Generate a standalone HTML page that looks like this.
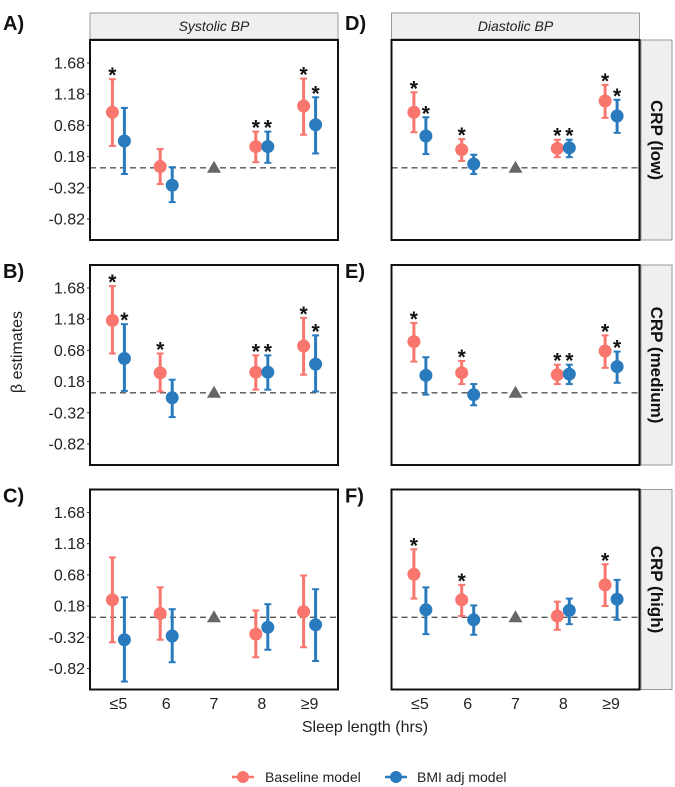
<!DOCTYPE html>
<html><head><meta charset="utf-8">
<style>
body{margin:0;background:#fff;}
svg{display:block;font-family:"Liberation Sans",sans-serif;}
</style></head>
<body>
<svg id="chart" width="675" height="787" viewBox="0 0 675 787"></svg>
<script>
const categories=["≤5","6","7","8","≥9"];
const yTicks=[1.68,1.18,0.68,0.18,-0.32,-0.82];
const panelLabels=["A)","B)","C)","D)","E)","F)"];
const colTitles=["Systolic BP","Diastolic BP"];
const rowTitles=["CRP (low)","CRP (medium)","CRP (high)"];
// per panel: [est,lo,hi] for categories ≤5,6,8,≥9 (7 is reference)
const baseA=[[0.89,0.35,1.42],[0.02,-0.26,0.30],[0.34,0.09,0.58],[0.99,0.53,1.43]];
const bmiA=[[0.43,-0.10,0.96],[-0.28,-0.55,0.01],[0.34,0.08,0.58],[0.69,0.23,1.13]];
const baseB=[[1.16,0.63,1.71],[0.32,0.02,0.63],[0.33,0.05,0.60],[0.75,0.29,1.20]];
const bmiB=[[0.55,0.03,1.10],[-0.08,-0.39,0.21],[0.33,0.05,0.60],[0.46,0.02,0.92]];
const baseC=[[0.28,-0.40,0.96],[0.06,-0.36,0.48],[-0.27,-0.64,0.11],[0.09,-0.48,0.67]];
const bmiC=[[-0.36,-1.03,0.32],[-0.30,-0.72,0.13],[-0.16,-0.52,0.21],[-0.12,-0.70,0.45]];
const baseD=[[0.89,0.57,1.21],[0.29,0.11,0.46],[0.31,0.17,0.45],[1.07,0.80,1.33]];
const bmiD=[[0.51,0.22,0.81],[0.06,-0.10,0.21],[0.32,0.17,0.45],[0.83,0.56,1.09]];
const baseE=[[0.82,0.50,1.12],[0.32,0.14,0.51],[0.29,0.14,0.45],[0.67,0.40,0.92]];
const bmiE=[[0.28,-0.03,0.57],[-0.03,-0.20,0.14],[0.30,0.14,0.45],[0.42,0.16,0.66]];
const baseF=[[0.69,0.30,1.09],[0.28,0.02,0.52],[0.02,-0.20,0.25],[0.52,0.18,0.85]];
const bmiF=[[0.12,-0.27,0.48],[-0.04,-0.28,0.19],[0.11,-0.11,0.30],[0.29,-0.04,0.60]];
const sigBase=[[1,0,1,1],[1,1,1,1],[0,0,0,0],[1,1,1,1],[1,1,1,1],[1,1,0,1]];
const sigBmi=[[0,0,1,1],[1,0,1,1],[0,0,0,0],[1,0,1,1],[0,0,1,1],[0,0,0,0]];
const baseAll=[baseA,baseB,baseC,baseD,baseE,baseF];
const bmiAll=[bmiA,bmiB,bmiC,bmiD,bmiE,bmiF];

const NS="http://www.w3.org/2000/svg";
const svg=document.getElementById('chart');
function mk(t,a,p){const e=document.createElementNS(NS,t);for(const k in a)e.setAttribute(k,a[k]);(p||svg).appendChild(e);return e;}
const RED="#F8766D",BLUE="#2A7BBE";
const colX=[90,391.5],PW=248,PH=200,rowY=[40,265,489.5];
const catIdx=[0,1,3,4];
function xS(col,i){return colX[col]+PW/2+(i-2)*47.8;}
function yS(row,v){return rowY[row]+127.8-v*62.4;}

for(let c=0;c<2;c++){
  const s=mk('rect',{x:colX[c],y:13,width:PW,height:26,fill:'#efefef',stroke:'#999','stroke-width':1});
  
  
  const t=mk('text',{x:colX[c]+PW/2,y:31,'text-anchor':'middle','font-size':14,'font-style':'italic',fill:'#222'});
  t.textContent=colTitles[c];
  
  
}
for(let r=0;r<3;r++){
  const s=mk('rect',{x:641,y:rowY[r],width:31,height:PH,fill:'#efefef',stroke:'#999','stroke-width':1});
  
  
  const cy=rowY[r]+PH/2;
  const t=mk('text',{x:656.5,y:cy,'text-anchor':'middle','dominant-baseline':'central','font-size':17,'font-weight':'bold',fill:'#111',transform:`rotate(90 656.5 ${cy})`});
  t.textContent=rowTitles[r];
  
  
}
for(let c=0;c<2;c++)for(let r=0;r<3;r++){
  const p=c*3+r;
  const g=mk('g',{});
  
  
  const lab=mk('text',{x:c?345:3,y:r===0?30:rowY[r]+13,'font-size':20,'font-weight':'bold',fill:'#111'},g);
  lab.textContent=panelLabels[p];
  
  
  mk('line',{x1:colX[c],x2:colX[c]+PW,y1:yS(r,0),y2:yS(r,0),stroke:'#555','stroke-width':1.3,'stroke-dasharray':'6,4'},g);
  if(c===0){
    yTicks.forEach(v=>{
      const t=mk('text',{x:colX[0]-5,y:yS(r,v)+5.5,'text-anchor':'end','font-size':16,fill:'#222'},g);
      t.textContent=v.toFixed(2);
      
      
      mk('line',{x1:colX[0]-3,x2:colX[0],y1:yS(r,v),y2:yS(r,v),stroke:'#333'},g);
    });
  }
  if(r===2){
    categories.forEach((cat,i)=>{
      const t=mk('text',{x:xS(c,i),y:709,'text-anchor':'middle','font-size':16,fill:'#222'},g);
      t.textContent=cat;
      
      
    });
  }
  const tx=xS(c,2),ty=yS(r,0);
  const tri=mk('polygon',{points:`${tx-7},${ty+5} ${tx+7},${ty+5} ${tx},${ty-7}`,fill:'#666'},g);
  
  
  [[baseAll[p],RED,-6,sigBase[p]],[bmiAll[p],BLUE,6,sigBmi[p]]].forEach(([data,col,dx,sig])=>{
    data.forEach((d,k)=>{
      const x=xS(c,catIdx[k])+dx;
      const [e,lo,hi]=d;
      mk('line',{x1:x,x2:x,y1:yS(r,lo),y2:yS(r,hi),stroke:col,'stroke-width':3},g);
      mk('line',{x1:x-3.5,x2:x+3.5,y1:yS(r,lo),y2:yS(r,lo),stroke:col,'stroke-width':2},g);
      mk('line',{x1:x-3.5,x2:x+3.5,y1:yS(r,hi),y2:yS(r,hi),stroke:col,'stroke-width':2},g);
      const pt=mk('circle',{cx:x,cy:yS(r,e),r:6.5,fill:col},g);
      
      
      if(sig[k]){
        const st=mk('text',{x:x,y:yS(r,hi)+3,'text-anchor':'middle','font-size':21,'font-weight':'bold',fill:'#111'},g);
        st.textContent='*';
        
        
      }
    });
  });
  mk('rect',{x:colX[c],y:rowY[r],width:PW,height:PH,fill:'none',stroke:'#111','stroke-width':2},g);
}
const yt=mk('text',{x:0,y:0,'text-anchor':'middle','font-size':16,fill:'#222',transform:'translate(22 352) rotate(-90)'});
yt.textContent='β estimates';


const xt=mk('text',{x:365,y:732,'text-anchor':'middle','font-size':16,fill:'#222'});
xt.textContent='Sleep length (hrs)';


[[243,RED,'Baseline model',265],[396,BLUE,'BMI adj model',417]].forEach(([x,col,label,tx])=>{
  const g=mk('g',{});
  
  
  mk('line',{x1:x-11,x2:x+11,y1:777,y2:777,stroke:col,'stroke-width':2.5},g);
  mk('circle',{cx:x,cy:777,r:6,fill:col},g);
  const t=mk('text',{x:tx,y:782,'font-size':14,fill:'#222'},g);
  t.textContent=label;
});
</script>
</body></html>
